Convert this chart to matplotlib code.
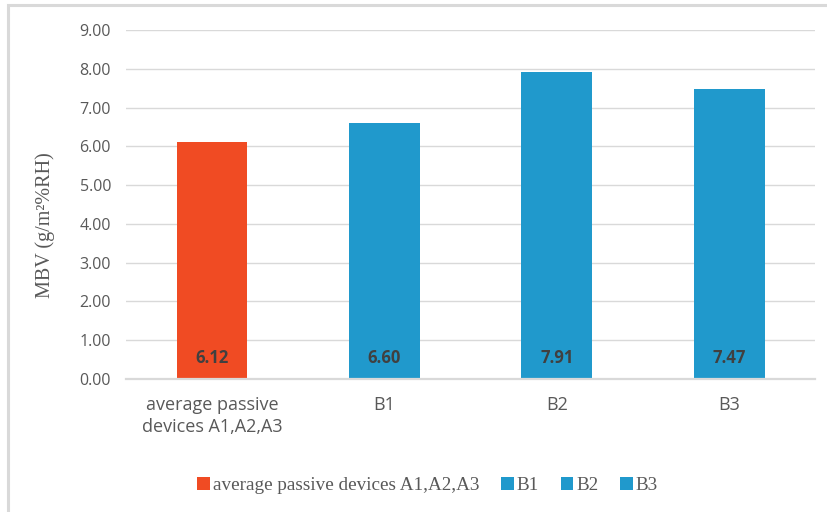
import matplotlib
matplotlib.use('Agg')
import matplotlib.pyplot as plt
from matplotlib.patches import Rectangle, Patch

# --- data
categories = ['average passive\ndevices A1,A2,A3', 'B1', 'B2', 'B3']
legend_names = ['average passive devices A1,A2,A3', 'B1', 'B2', 'B3']
mbv = [6.12, 6.60, 7.91, 7.47]
yticks = [0, 1, 2, 3, 4, 5, 6, 7, 8, 9]

orange = '#F04B23'
blue = '#2099CC'
colors = [orange, blue, blue, blue]
grid_col = '#D9D9D9'
tick_col = '#595959'

fig = plt.figure(figsize=(8.27, 5.12), dpi=100)
fig.patch.set_facecolor('white')

# light frame round the chart
fig.patches.append(Rectangle((0.010, -0.01), 1.2, 1.0 - 0.0098 + 0.01,
                             transform=fig.transFigure, fill=False,
                             edgecolor='#D9D9D9', linewidth=2.2))

ax = fig.add_axes([0.152, 0.26, 0.834, 0.681])
x = list(range(len(categories)))
ax.bar(x, mbv, width=0.41, color=colors, zorder=3)

for xi, v in zip(x, mbv):
    ax.text(xi, 0.55, f'{v:.2f}', ha='center', va='center', fontsize=12,
            fontweight='bold', color='#404040', family='Open Sans', zorder=4)

ax.set_xlim(-0.5, 3.5)
ax.set_ylim(0, 9)
ax.set_yticks(yticks)
ax.set_yticklabels([f'{t:.2f}' for t in yticks], family='Open Sans',
                   fontsize=11.5, color=tick_col)
ax.set_xticks(x)
ax.set_xticklabels(categories, family='Open Sans', fontsize=13,
                   color=tick_col, linespacing=1.3)
ax.tick_params(axis='both', length=0)
ax.tick_params(axis='y', pad=10.5)
ax.tick_params(axis='x', pad=12)

ax.yaxis.grid(True, color=grid_col, linewidth=1.0, zorder=0)
for s in ['top', 'right', 'left']:
    ax.spines[s].set_visible(False)
ax.spines['bottom'].set_color(grid_col)
ax.spines['bottom'].set_linewidth(1.6)
ax.spines['bottom'].set_zorder(4)

ax.set_ylabel('MBV (g/m²%RH)', family='Liberation Serif', fontsize=14.5,
              color=tick_col)
ax.yaxis.set_label_coords(0.0665, 0.56, transform=fig.transFigure)

handles = [Patch(facecolor=c, edgecolor='none') for c in colors]
fig.legend(handles, legend_names, loc='center', bbox_to_anchor=(0.517, 0.052),
           ncol=4, frameon=False, handlelength=0.65, handleheight=0.65,
           handletextpad=0.15, columnspacing=1.15,
           prop={'family': 'Liberation Serif', 'size': 13.8},
           labelcolor=tick_col)

fig.savefig('out.png', dpi=100)
